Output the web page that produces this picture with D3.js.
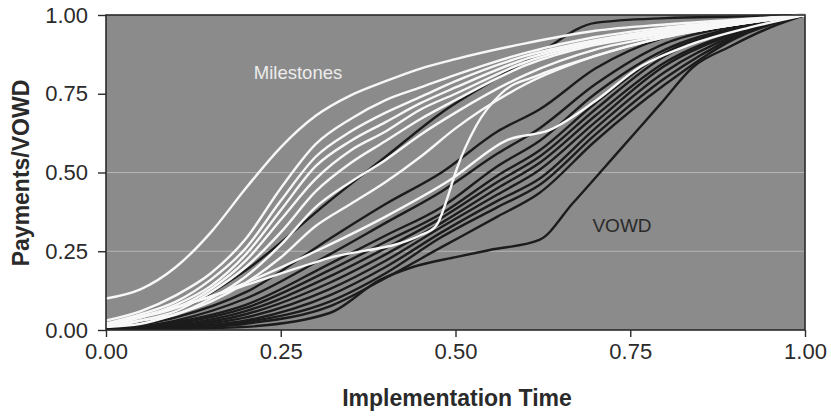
<!DOCTYPE html>
<html><head><meta charset="utf-8">
<script src="https://cdn.jsdelivr.net/npm/d3@7/dist/d3.min.js"></script>
<style>
html,body{margin:0;padding:0;background:#fff;}
svg{display:block;font-family:"Liberation Sans",Arial,sans-serif;}
</style></head>
<body><svg id="chart" width="831" height="418"></svg>
<script>
// ---- Data ----
const xTicks = [0, 0.25, 0.5, 0.75, 1];
const yTicks = [0, 0.25, 0.5, 0.75, 1];
const xTickLabels = ["0.00", "0.25", "0.50", "0.75", "1.00"];
const yTickLabels = ["0.00", "0.25", "0.50", "0.75", "1.00"];
const gridValues = [0.25, 0.5];

// Milestone payment curves (white)
const milestoneT = [0, 0.05, 0.1, 0.15, 0.2, 0.25, 0.3, 0.35, 0.4, 0.45, 0.5, 0.6, 0.7, 0.8, 0.9, 1];
const milestone1 = [0.10, 0.13, 0.20, 0.31, 0.45, 0.58, 0.68, 0.745, 0.79, 0.83, 0.86, 0.91, 0.95, 0.97, 0.985, 1];
const milestone2 = [0.03, 0.06, 0.11, 0.18, 0.29, 0.45, 0.59, 0.67, 0.73, 0.77, 0.81, 0.88, 0.93, 0.96, 0.98, 1];
const milestone3 = [0.02, 0.05, 0.09, 0.16, 0.26, 0.41, 0.55, 0.63, 0.69, 0.74, 0.79, 0.87, 0.92, 0.955, 0.98, 1];
const milestone4 = [0.02, 0.04, 0.08, 0.14, 0.24, 0.38, 0.52, 0.60, 0.66, 0.72, 0.77, 0.86, 0.915, 0.95, 0.98, 1];
const milestone5 = [0.01, 0.04, 0.07, 0.13, 0.22, 0.35, 0.48, 0.57, 0.63, 0.70, 0.75, 0.85, 0.91, 0.945, 0.975, 1];
const milestone6 = [0.01, 0.03, 0.06, 0.12, 0.20, 0.31, 0.44, 0.53, 0.60, 0.67, 0.73, 0.84, 0.905, 0.94, 0.97, 1];
const milestone7 = [0.01, 0.03, 0.05, 0.10, 0.17, 0.27, 0.39, 0.47, 0.54, 0.62, 0.69, 0.81, 0.89, 0.935, 0.97, 1];
const milestone8 = [0.01, 0.02, 0.05, 0.09, 0.15, 0.23, 0.33, 0.40, 0.47, 0.55, 0.64, 0.78, 0.87, 0.93, 0.97, 1];
const milestone9T = [0, 0.134, 0.209, 0.32, 0.449, 0.472, 0.49, 0.5, 0.53, 0.565, 0.62, 0.7, 0.8, 0.9, 1];
const milestone9 = [0.016, 0.095, 0.149, 0.229, 0.30, 0.33, 0.43, 0.50, 0.65, 0.75, 0.81, 0.87, 0.93, 0.97, 1];
const milestone10T = [0, 0.1, 0.2, 0.3, 0.4, 0.492, 0.574, 0.635, 0.702, 0.764, 0.835, 0.92, 1];
const milestone10 = [0.02, 0.07, 0.15, 0.25, 0.36, 0.476, 0.603, 0.635, 0.73, 0.835, 0.905, 0.96, 1];

// VOWD curves (black)
const vowdT = [0, 0.1, 0.2, 0.32, 0.4, 0.48, 0.56, 0.62, 0.7, 0.8, 0.9, 1];
const vowd1  = [0, 0.06, 0.19, 0.41, 0.55, 0.69, 0.80, 0.88, 0.975, 0.99, 0.995, 1];
const vowd2  = [0, 0.04, 0.12, 0.29, 0.40, 0.50, 0.63, 0.70, 0.83, 0.93, 0.97, 1];
const vowd3  = [0, 0.03, 0.10, 0.24, 0.34, 0.44, 0.56, 0.64, 0.78, 0.91, 0.965, 1];
const vowd4  = [0, 0.025, 0.08, 0.21, 0.30, 0.39, 0.52, 0.60, 0.75, 0.89, 0.96, 1];
const vowd5  = [0, 0.02, 0.07, 0.19, 0.28, 0.37, 0.49, 0.57, 0.72, 0.88, 0.955, 1];
const vowd6  = [0, 0.015, 0.06, 0.17, 0.26, 0.356, 0.47, 0.55, 0.70, 0.87, 0.95, 1];
const vowd7  = [0, 0.012, 0.05, 0.15, 0.24, 0.34, 0.45, 0.53, 0.68, 0.85, 0.945, 1];
const vowd8  = [0, 0.01, 0.04, 0.13, 0.22, 0.327, 0.43, 0.508, 0.66, 0.84, 0.94, 1];
const vowd9  = [0, 0.008, 0.03, 0.11, 0.20, 0.31, 0.41, 0.48, 0.64, 0.82, 0.935, 1];
const vowd10 = [0, 0.006, 0.025, 0.09, 0.18, 0.295, 0.39, 0.46, 0.62, 0.80, 0.93, 1];
const vowd11 = [0, 0.005, 0.02, 0.075, 0.165, 0.263, 0.36, 0.435, 0.60, 0.78, 0.925, 1];
const vowd12T = [0, 0.1, 0.2, 0.32, 0.392, 0.439, 0.502, 0.549, 0.62, 0.668, 0.735, 0.793, 0.84, 0.893, 0.95, 1];
const vowd12  = [0, 0.003, 0.01, 0.054, 0.159, 0.2, 0.232, 0.254, 0.286, 0.403, 0.571, 0.717, 0.835, 0.90, 0.96, 1];

const milestoneSeries = [
  [milestoneT, milestone1], [milestoneT, milestone2], [milestoneT, milestone3], [milestoneT, milestone4],
  [milestoneT, milestone5], [milestoneT, milestone6], [milestoneT, milestone7], [milestoneT, milestone8],
  [milestone9T, milestone9], [milestone10T, milestone10]
];
const vowdSeries = [
  [vowdT, vowd1], [vowdT, vowd2], [vowdT, vowd3], [vowdT, vowd4], [vowdT, vowd5], [vowdT, vowd6],
  [vowdT, vowd7], [vowdT, vowd8], [vowdT, vowd9], [vowdT, vowd10], [vowdT, vowd11], [vowd12T, vowd12]
];

// ---- Layout ----
const svg = d3.select("#chart");
const L = 106, R = 805, T = 15, B = 330;
const x = d3.scaleLinear().domain([0, 1]).range([L, R]);
const y = d3.scaleLinear().domain([0, 1]).range([B, T]);
const FONT = "'Liberation Sans', Arial, sans-serif";

svg.append("rect").attr("x", L).attr("y", T).attr("width", R - L).attr("height", B - T)
  .attr("fill", "#8b8b8b");

svg.append("g").selectAll("line").data(gridValues).join("line")
  .attr("x1", L).attr("x2", R).attr("y1", d => y(d)).attr("y2", d => y(d))
  .attr("stroke", "#b5b5b5").attr("stroke-width", 1);

const line = d3.line().x(d => x(d[0])).y(d => y(d[1])).curve(d3.curveMonotoneX);
const toPts = s => s[0].map((t, i) => [t, s[1][i]]);

svg.append("clipPath").attr("id", "clip").append("rect")
  .attr("x", L).attr("y", T - 2).attr("width", R - L).attr("height", B - T + 2);

const plot = svg.append("g").attr("clip-path", "url(#clip)");
plot.append("g").selectAll("path").data(vowdSeries).join("path")
  .attr("d", s => line(toPts(s))).attr("fill", "none")
  .attr("stroke", "#1c1c1c").attr("stroke-width", 2.4).attr("stroke-linejoin", "round");
plot.append("g").selectAll("path").data(milestoneSeries).join("path")
  .attr("d", s => line(toPts(s))).attr("fill", "none")
  .attr("stroke", "#f7f7f7").attr("stroke-width", 2.4).attr("stroke-linejoin", "round");

svg.append("rect").attr("x", L).attr("y", T).attr("width", R - L).attr("height", B - T)
  .attr("fill", "none").attr("stroke", "#2a2a2a").attr("stroke-width", 1.6);

const xAxis = d3.axisBottom(x).tickValues(xTicks).tickFormat((d, i) => xTickLabels[i])
  .tickSize(7).tickPadding(6);
const yAxis = d3.axisLeft(y).tickValues(yTicks).tickFormat((d, i) => yTickLabels[i])
  .tickSize(8).tickPadding(10);
const gx = svg.append("g").attr("transform", `translate(0,${B})`).call(xAxis);
const gy = svg.append("g").attr("transform", `translate(${L},0)`).call(yAxis);
[gx, gy].forEach(g => {
  g.select(".domain").remove();
  g.selectAll("line").attr("stroke", "#2a2a2a").attr("stroke-width", 1.4);
  g.selectAll("text").attr("fill", "#2a2a2a").style("font-size", "22px").style("font-family", FONT);
});

svg.append("text").attr("x", 457).attr("y", 406).attr("text-anchor", "middle")
  .style("font-size", "23px").style("font-weight", "bold").style("font-family", FONT).attr("fill", "#2a2a2a")
  .text("Implementation Time");
svg.append("text").attr("transform", "translate(29,173) rotate(-90)").attr("text-anchor", "middle")
  .style("font-size", "23px").style("font-weight", "bold").style("font-family", FONT).attr("fill", "#2a2a2a")
  .text("Payments/VOWD");

svg.append("text").attr("x", 298).attr("y", 79).attr("text-anchor", "middle")
  .style("font-size", "18.5px").style("font-family", FONT).attr("fill", "#ececec").text("Milestones");
svg.append("text").attr("x", 622).attr("y", 232).attr("text-anchor", "middle")
  .style("font-size", "19px").style("font-family", FONT).attr("fill", "#2a2a2a").text("VOWD");
</script></body></html>
